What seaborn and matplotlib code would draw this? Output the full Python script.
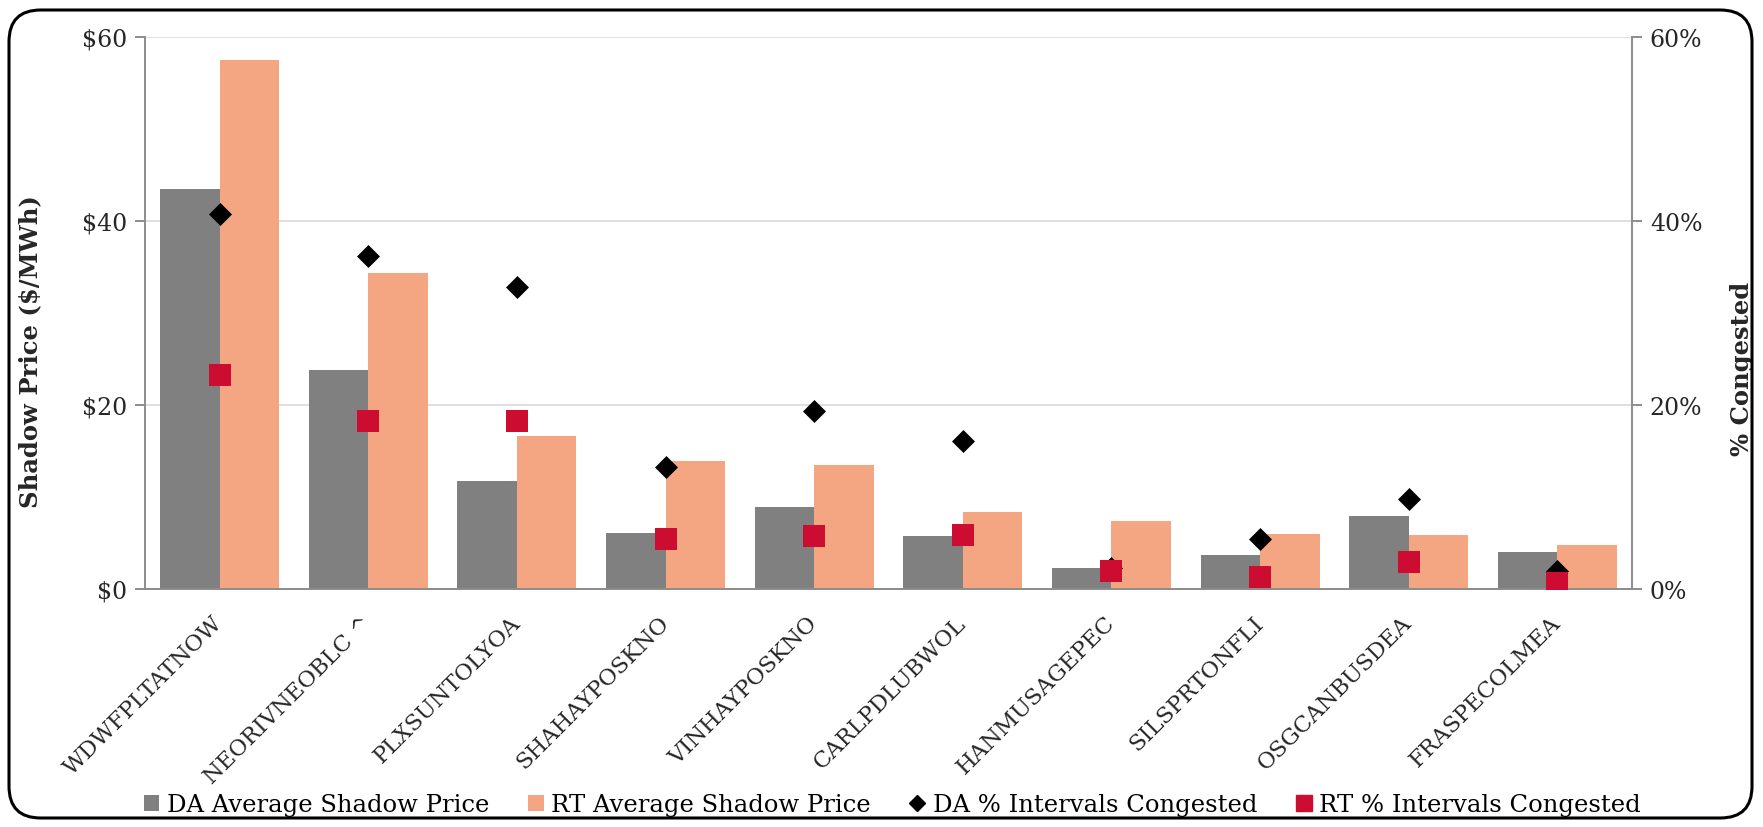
import matplotlib
matplotlib.use("Agg")
import matplotlib.pyplot as plt
from matplotlib.patches import Patch, FancyBboxPatch
from matplotlib.lines import Line2D
from matplotlib.ticker import FuncFormatter, PercentFormatter, FixedLocator
import numpy as np
import pandas as pd
import seaborn as sns

# Constraint names and congestion statistics
constraints = ["WDWFPLTATNOW", "NEORIVNEOBLC ^", "PLXSUNTOLYOA", "SHAHAYPOSKNO",
               "VINHAYPOSKNO", "CARLPDLUBWOL", "HANMUSAGEPEC", "SILSPRTONFLI",
               "OSGCANBUSDEA", "FRASPECOLMEA"]
da_shadow_price = [43.4, 23.8, 11.7, 6.1, 8.9, 5.7, 2.2, 3.7, 7.95, 4.0]
rt_shadow_price = [57.5, 34.3, 16.6, 13.9, 13.5, 8.3, 7.4, 5.9, 5.8, 4.8]
da_pct_congested = [40.7, 36.2, 32.8, 13.2, 19.3, 16.1, 2.2, 5.4, 9.8, 1.9]
rt_pct_congested = [23.2, 18.2, 18.2, 5.4, 5.7, 5.8, 1.9, 1.3, 2.9, 0.6]

series_names = ["DA Average Shadow Price", "RT Average Shadow Price",
                "DA % Intervals Congested", "RT % Intervals Congested"]
price_ticks = [0, 20, 40, 60]
pct_ticks = [0, 20, 40, 60]

GRAY = "#808080"
SALMON = "#F4A683"
RED = "#CC0C30"
AXIS = "#8C8C8C"
GRID = "#D9D9D9"

sns.set_theme(style="white")
plt.rcParams["font.family"] = ["DejaVu Serif"]
plt.rcParams["text.color"] = "black"

prices = pd.DataFrame({
    "constraint": constraints * 2,
    "series": [series_names[0]] * len(constraints) + [series_names[1]] * len(constraints),
    "price": da_shadow_price + rt_shadow_price,
})

W, H = 1763, 828
fig = plt.figure(figsize=(W / 100, H / 100), dpi=100)
ax = fig.add_axes([145.3 / W, 1 - 589.7 / H, (1631.7 - 145.3) / W, (589.7 - 37.7) / H])

sns.barplot(data=prices, x="constraint", y="price", hue="series", order=constraints,
            hue_order=series_names[:2], palette=[GRAY, SALMON], saturation=1,
            width=0.8, gap=0, linewidth=0, edgecolor="none", ax=ax, legend=False, zorder=2)

ax2 = ax.twinx()
sns.stripplot(x=constraints, y=da_pct_congested, order=constraints, ax=ax2, jitter=False,
              marker="D", color="black", size=11.7, linewidth=0, zorder=3)
sns.stripplot(x=constraints, y=rt_pct_congested, order=constraints, ax=ax2, jitter=False,
              marker="s", color=RED, size=15.8, linewidth=0, zorder=4)

n = len(constraints)
for a in (ax, ax2):
    a.set_xlim(-0.5, n - 0.5)
ax.set_ylim(0, 60)
ax2.set_ylim(0, 60)

# left axis: dollars
ax.yaxis.set_major_locator(FixedLocator(price_ticks))
ax.yaxis.set_major_formatter(FuncFormatter(lambda v, _: r"\$%d" % v))
ax.grid(axis="y", color=GRID, linewidth=1.2, zorder=0)
ax.set_axisbelow(True)
ax.set_ylabel(r"Shadow Price (\$/MWh)", fontsize=17.5, fontweight="bold")
ax.yaxis.set_label_coords(-0.0695, 0.432)
ax.set_xlabel("")

# right axis: percent
ax2.yaxis.set_major_locator(FixedLocator(pct_ticks))
ax2.yaxis.set_major_formatter(PercentFormatter(xmax=100, decimals=0))
ax2.set_ylabel("% Congested", fontsize=17.5, fontweight="bold")
ax2.yaxis.set_label_coords(1.066, 0.40)
ax2.grid(False)

# category boundaries as crossing ticks, labels at centres
ax.xaxis.set_major_locator(FixedLocator(np.arange(n)))
ax.set_xticks(np.arange(-0.5, n, 1.0), minor=True)
ax.set_xticklabels(constraints, rotation=45, ha="right", va="center",
                   rotation_mode="anchor", fontsize=16.3)
ax.tick_params(axis="x", which="major", length=0, pad=22)
ax.tick_params(axis="x", which="minor", direction="inout", length=11, width=1.4, color=AXIS)
ax2.tick_params(axis="x", which="both", bottom=False, top=False, labelbottom=False)

ax.tick_params(axis="y", which="major", direction="out", length=7, width=1.4, color=AXIS,
               labelsize=17, pad=6, left=True)
ax2.tick_params(axis="y", which="major", direction="out", length=7, width=1.4, color=AXIS,
                labelsize=17, pad=6, right=True)

for a in (ax, ax2):
    a.spines["top"].set_visible(False)
    for s in ("left", "right", "bottom"):
        a.spines[s].set_color(AXIS)
        a.spines[s].set_linewidth(1.4)
ax.spines["right"].set_visible(False)
ax2.spines["left"].set_visible(False)
ax2.spines["bottom"].set_visible(False)

handles = [
    Patch(facecolor=GRAY, edgecolor="none"),
    Patch(facecolor=SALMON, edgecolor="none"),
    Line2D([], [], linestyle="none", marker="D", color="black", markersize=8),
    Line2D([], [], linestyle="none", marker="s", color=RED, markersize=11),
]
fig.legend(handles, series_names, loc="center", bbox_to_anchor=(0.506, 1 - 806 / H),
           ncol=4, frameon=False, fontsize=17.5, handlelength=0.65, handleheight=0.65,
           handletextpad=0.3, columnspacing=1.6)

# rounded outer frame
frame = FancyBboxPatch((9 / W, 9 / H), (W - 11 - 9) / W, (H - 11 - 9) / H,
                       boxstyle="round,pad=0,rounding_size=0.018",
                       transform=fig.transFigure, facecolor="none",
                       edgecolor="black", linewidth=2.2, mutation_aspect=W / H)
fig.patches.append(frame)

fig.savefig("out.png", dpi=100)
